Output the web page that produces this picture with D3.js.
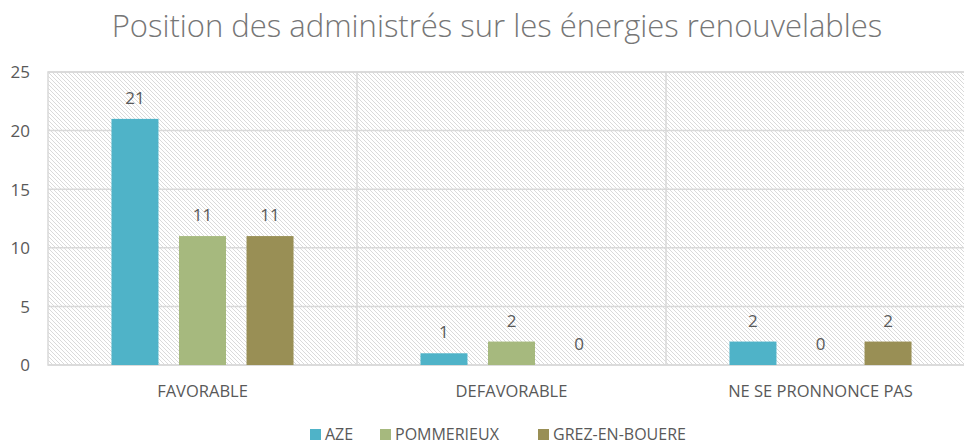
<!DOCTYPE html>
<html>
<head>
<meta charset="utf-8">
<script src="https://cdn.jsdelivr.net/npm/d3@7"></script>
<style>
  body { margin: 0; background: #fff; overflow: hidden; }
  svg { display: block; font-family: "Open Sans", sans-serif; }
</style>
</head>
<body>
<div id="chart"></div>
<script>
// chart data
const categories = ["FAVORABLE", "DEFAVORABLE", "NE SE PRONNONCE PAS"];
const seriesNames = ["AZE", "POMMERIEUX", "GREZ-EN-BOUERE"];
const aze = [21, 1, 2];
const pommerieux = [11, 2, 0];
const grez = [11, 0, 2];
const yTicks = [0, 5, 10, 15, 20, 25];
const colors = ["#4fb3c8", "#a6b97e", "#998f55"];

const series = [aze, pommerieux, grez];

const width = 964, height = 445;
// plot area runs past the right edge of the picture, as in the original crop
const margin = { top: 72, right: -11, bottom: 80, left: 48 };

const svg = d3.select("#chart").append("svg")
    .attr("width", width)
    .attr("height", height);

// hatched background pattern
const defs = svg.append("defs");
const pat = defs.append("pattern")
    .attr("id", "hatch")
    .attr("patternUnits", "userSpaceOnUse")
    .attr("width", 4)
    .attr("height", 4);
pat.append("rect").attr("width", 4).attr("height", 4).attr("fill", "#ffffff");
pat.append("path")
    .attr("d", "M-1,-1 L5,5 M-1,3 L1,5 M3,-1 L5,1")
    .attr("stroke", "#dadada")
    .attr("stroke-width", 1);

const x0 = d3.scaleBand()
    .domain(categories)
    .range([margin.left, width - margin.right]);

const x1 = d3.scaleBand()
    .domain(seriesNames)
    .range([0, x0.bandwidth()])
    .paddingInner(0.304)
    .paddingOuter(0.94);

const y = d3.scaleLinear()
    .domain([0, 25])
    .range([height - margin.bottom, margin.top]);

// title
svg.append("text")
    .attr("x", 497)
    .attr("y", 37)
    .attr("text-anchor", "middle")
    .attr("fill", "#767676")
    .style("font-size", "31px")
    .style("font-weight", 300)
    .text("Position des administrés sur les énergies renouvelables");

// plot background
svg.append("rect")
    .attr("x", x0.range()[0])
    .attr("y", y(25))
    .attr("width", x0.range()[1] - x0.range()[0])
    .attr("height", y(0) - y(25))
    .attr("fill", "url(#hatch)")
    .attr("stroke", "#d9d9d9")
    .attr("stroke-width", 1.5);

// horizontal gridlines
svg.append("g")
    .selectAll("line")
    .data(yTicks)
    .enter()
    .append("line")
    .attr("x1", x0.range()[0])
    .attr("x2", x0.range()[1])
    .attr("y1", d => y(d))
    .attr("y2", d => y(d))
    .attr("stroke", "#d9d9d9")
    .attr("stroke-width", 1.5);

// vertical category separators
svg.append("g")
    .selectAll("line")
    .data(categories.slice(1))
    .enter()
    .append("line")
    .attr("x1", d => x0(d))
    .attr("x2", d => x0(d))
    .attr("y1", y(0))
    .attr("y2", y(25))
    .attr("stroke", "#d9d9d9")
    .attr("stroke-width", 1.5);

// y axis labels
const yAxis = d3.axisLeft(y).tickValues(yTicks).tickSize(0).tickPadding(0);
const yg = svg.append("g")
    .attr("transform", `translate(30,0)`)
    .call(yAxis);
yg.select(".domain").remove();
yg.selectAll("text")
    .attr("fill", "#595959")
    .attr("dy", "0.35em")
    .style("font-size", "17px")
    .style("font-family", "'Open Sans', sans-serif");

// bars
const groups = svg.append("g")
    .selectAll("g")
    .data(categories)
    .enter()
    .append("g")
    .attr("transform", d => `translate(${x0(d)},0)`);

groups.selectAll("rect")
    .data((c, i) => seriesNames.map((s, j) => ({ s: s, v: series[j][i], j: j })))
    .enter()
    .append("rect")
    .attr("x", d => x1(d.s))
    .attr("width", x1.bandwidth())
    .attr("y", d => y(d.v))
    .attr("height", d => y(0) - y(d.v))
    .attr("fill", d => colors[d.j]);

groups.selectAll("text")
    .data((c, i) => seriesNames.map((s, j) => ({ s: s, v: series[j][i], j: j })))
    .enter()
    .append("text")
    .attr("x", d => x1(d.s) + x1.bandwidth() / 2)
    .attr("y", d => y(d.v) - 15)
    .attr("text-anchor", "middle")
    .attr("fill", "#595959")
    .style("font-size", "17px")
    .text(d => d.v);

// category labels
svg.append("g")
    .selectAll("text")
    .data(categories)
    .enter()
    .append("text")
    .attr("x", d => x0(d) + x0.bandwidth() / 2)
    .attr("y", 397)
    .attr("text-anchor", "middle")
    .attr("fill", "#595959")
    .style("font-size", "16.5px")
    .text(d => d);

// legend
const legendX = [310, 380, 538];
const legend = svg.append("g")
    .selectAll("g")
    .data(seriesNames)
    .enter()
    .append("g")
    .attr("transform", (d, i) => `translate(${legendX[i]},429)`);
legend.append("rect")
    .attr("width", 11)
    .attr("height", 11)
    .attr("fill", (d, i) => colors[i]);
legend.append("text")
    .attr("x", 15)
    .attr("y", 11)
    .attr("fill", "#595959")
    .style("font-size", "16px")
    .text(d => d);
</script>
</body>
</html>
